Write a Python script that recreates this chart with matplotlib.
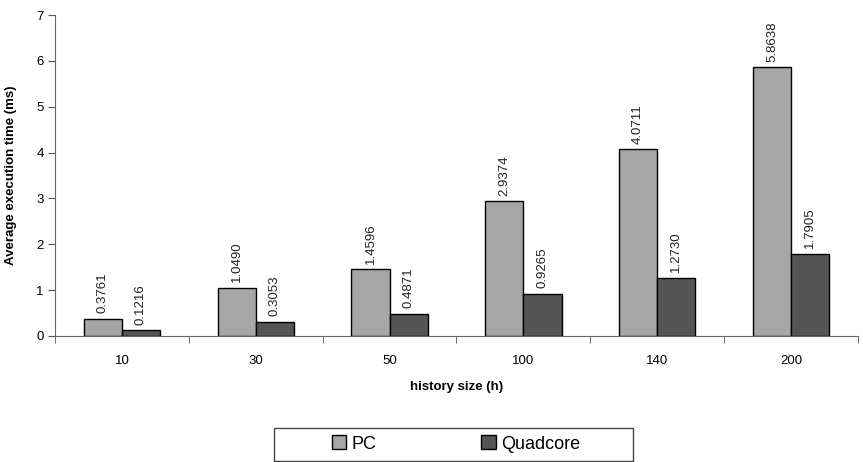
import numpy as np
import matplotlib
matplotlib.use("Agg")
import matplotlib.pyplot as plt
from matplotlib.patches import Patch, Rectangle

categories = ["10", "30", "50", "100", "140", "200"]
pc = [0.3761, 1.0490, 1.4596, 2.9374, 4.0711, 5.8638]
quadcore = [0.1216, 0.3053, 0.4871, 0.9265, 1.2730, 1.7905]
series_names = ["PC", "Quadcore"]
colors = ["#a6a6a6", "#555555"]

plt.rcParams["font.family"] = ["Liberation Sans", "DejaVu Sans"]

W, H = 863, 462
fig = plt.figure(figsize=(W / 100, H / 100), dpi=100)
ax = fig.add_axes([55 / W, 1 - 336 / H, 803 / W, 321 / H])

x = np.arange(len(categories))
w = 0.285
for vals, off, col in [(pc, -w / 2, colors[0]), (quadcore, w / 2, colors[1])]:
    bars = ax.bar(x + off, vals, w, color=col, edgecolor="black", linewidth=1.0, zorder=3)
    for b, v in zip(bars, vals):
        ax.text(b.get_x() + b.get_width() / 2, v + 0.12, f"{v:.4f}", rotation=90,
                ha="center", va="bottom", fontsize=9.5, color="#222222")

ax.set_xlim(-0.5, len(categories) - 0.5)
ax.set_ylim(0, 7)
ax.set_yticks(range(0, 8))
ax.set_xticks(x)
ax.set_xticklabels(categories)
ax.set_xticks(np.arange(len(categories) + 1) - 0.5, minor=True)
ax.tick_params(axis="x", which="major", length=0, pad=14, labelsize=9.5)
ax.tick_params(axis="x", which="minor", length=5, color="#555555", direction="out")
ax.tick_params(axis="y", length=5, color="#555555", labelsize=9.5, pad=3)
for s in ["top", "right"]:
    ax.spines[s].set_visible(False)
for s in ["left", "bottom"]:
    ax.spines[s].set_color("#666666")
ax.set_ylabel("Average execution time (ms)", fontweight="bold", fontsize=9.5, labelpad=14)
ax.set_xlabel("history size (h)", fontweight="bold", fontsize=9.5, labelpad=10)

# legend box drawn separately so it can be wider than its entries
fig.add_artist(Rectangle((274 / W, 1 - 461 / H), 359 / W, 33 / H, transform=fig.transFigure,
                         facecolor="white", edgecolor="#444444", linewidth=1.0))
handles = [Patch(facecolor=c, edgecolor="black") for c in colors]
fig.legend(handles, series_names, loc="center", ncol=2,
           bbox_to_anchor=(456 / W, 1 - 444 / H), fontsize=13, frameon=False,
           handlelength=0.8, handleheight=0.8, handletextpad=0.3,
           columnspacing=5.8, borderpad=0, borderaxespad=0)

fig.savefig("out.png", dpi=100)
